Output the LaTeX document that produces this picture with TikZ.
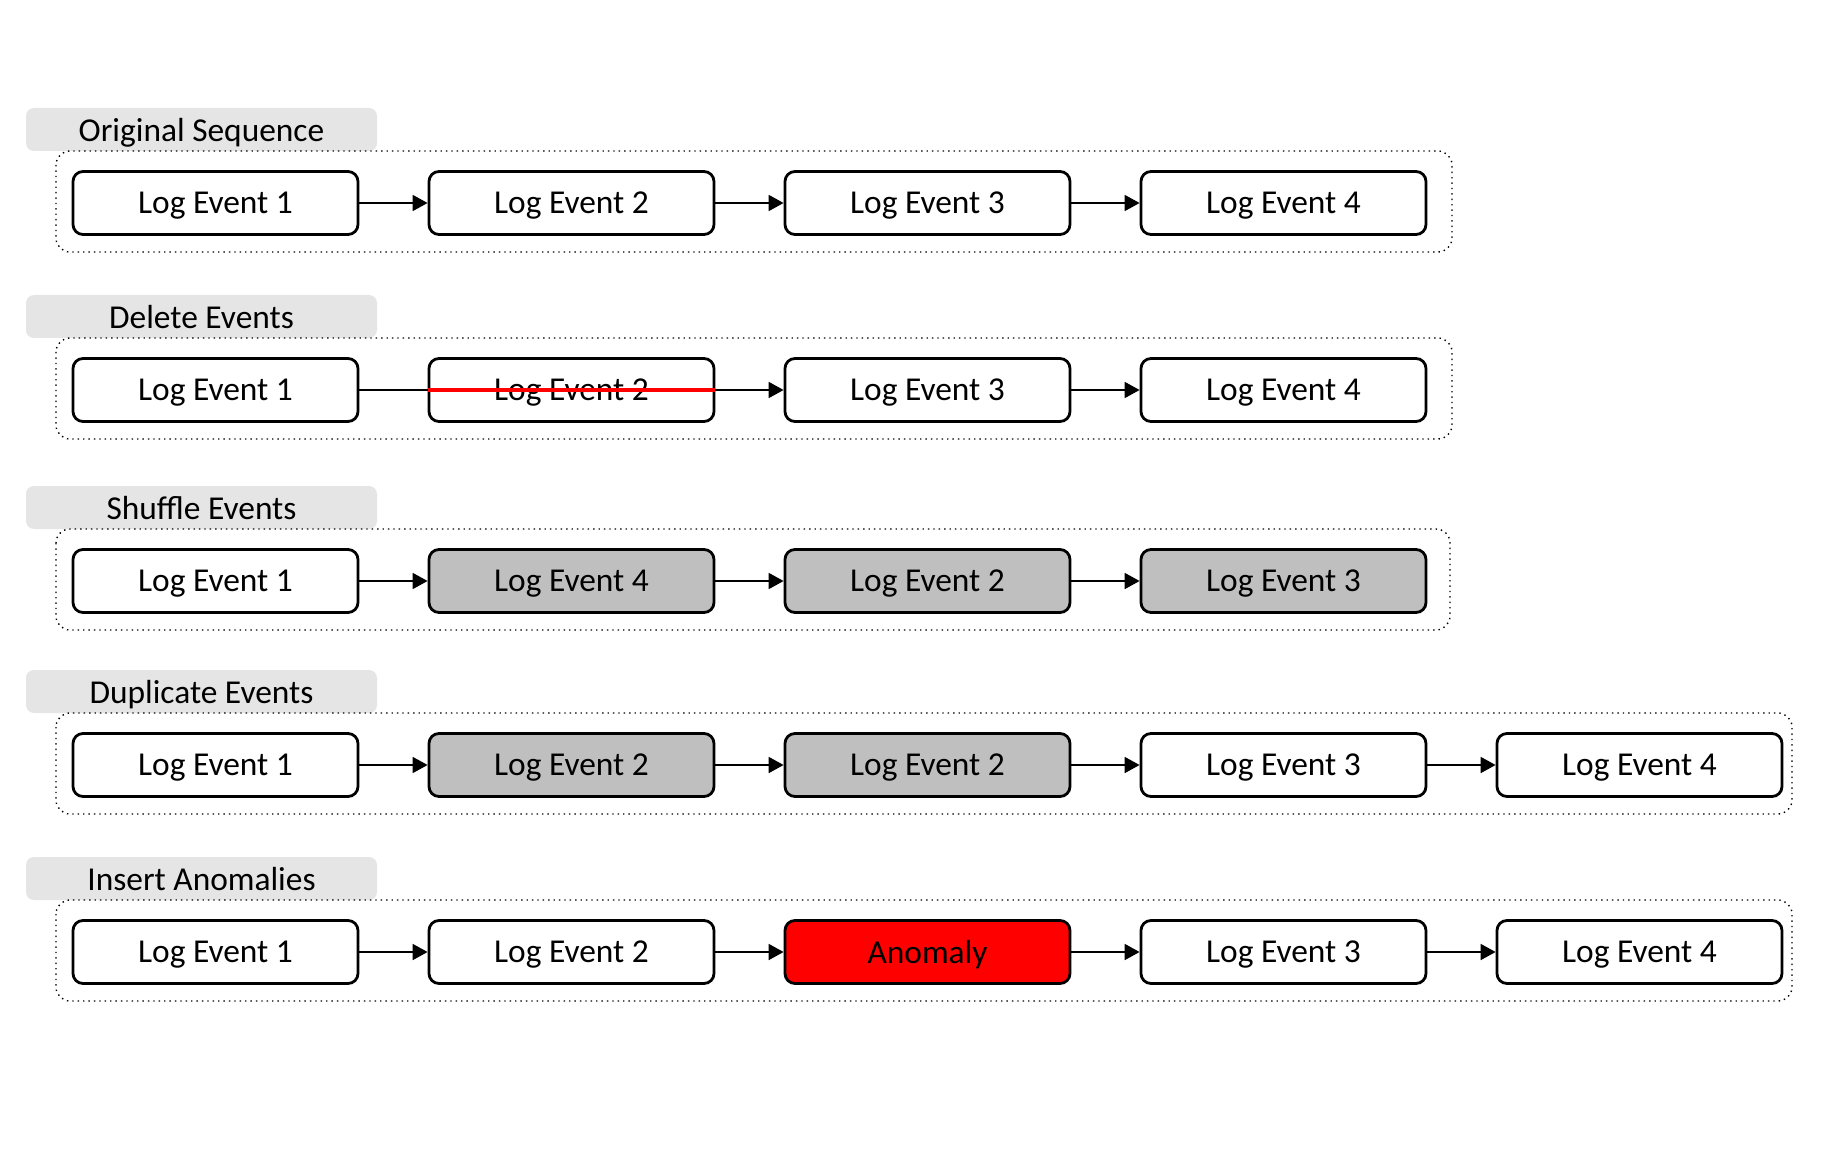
\documentclass[tikz,border=0pt]{standalone}
\usepackage{fontspec}
\setmainfont{Carlito}
\usetikzlibrary{arrows.meta,positioning}

\begin{document}
\begin{tikzpicture}[
    x=0.5pt, y=-0.5pt,
    node distance=34.1pt,
    event/.style={rectangle, draw, line width=1.4pt, fill=white, rounded corners=5pt, minimum width=142.5pt, minimum height=31.5pt, inner sep=0pt, text depth=0pt, font=\fontsize{16.7}{19}\selectfont},
    moved/.style={event, fill=black!25},
    anomaly/.style={event, fill=red},
    title/.style={rectangle, fill=black!10, rounded corners=4pt, minimum width=175.5pt, minimum height=21.5pt, inner sep=0pt, text depth=0pt, font=\fontsize{16.7}{19}\selectfont},
    group/.style={draw, dotted, line width=0.7pt, rounded corners=7pt},
    line/.style={draw, -{Triangle[length=7.5pt,width=8pt]}, line width=0.9pt}
]
\useasboundingbox (0,0) rectangle (1821,1166);

% Original Sequence
\node [title] (t1) at (201.5,129.5) {Original Sequence};
\draw [group] (56,151) rectangle (1452,252);
\node [event] (o1) at (215.5,203) {Log Event 1};
\node [event, right=of o1] (o2) {Log Event 2};
\node [event, right=of o2] (o3) {Log Event 3};
\node [event, right=of o3] (o4) {Log Event 4};
\path [line] (o1) -- (o2);
\path [line] (o2) -- (o3);
\path [line] (o3) -- (o4);

% Delete Events
\node [title] (t2) at (201.5,316.5) {Delete Events};
\draw [group] (56,338) rectangle (1452,439);
\node [event] (d1) at (215.5,390) {Log Event 1};
\node [event, right=of d1] (d2) {Log Event 2};
\node [event, right=of d2] (d3) {Log Event 3};
\node [event, right=of d3] (d4) {Log Event 4};
\draw [line width=0.9pt] (d1) -- (d2);
\draw [red, line width=2pt] (d2.west) -- (d2.east);
\path [line] (d2) -- (d3);
\path [line] (d3) -- (d4);

% Shuffle Events
\node [title] (t3) at (201.5,507.5) {Shuffle Events};
\draw [group] (56,529) rectangle (1450,630);
\node [event] (s1) at (215.5,581) {Log Event 1};
\node [moved, right=of s1] (s2) {Log Event 4};
\node [moved, right=of s2] (s3) {Log Event 2};
\node [moved, right=of s3] (s4) {Log Event 3};
\path [line] (s1) -- (s2);
\path [line] (s2) -- (s3);
\path [line] (s3) -- (s4);

% Duplicate Events
\node [title] (t4) at (201.5,691.5) {Duplicate Events};
\draw [group] (56,713) rectangle (1792,814);
\node [event] (u1) at (215.5,765) {Log Event 1};
\node [moved, right=of u1] (u2) {Log Event 2};
\node [moved, right=of u2] (u3) {Log Event 2};
\node [event, right=of u3] (u4) {Log Event 3};
\node [event, right=of u4] (u5) {Log Event 4};
\path [line] (u1) -- (u2);
\path [line] (u2) -- (u3);
\path [line] (u3) -- (u4);
\path [line] (u4) -- (u5);

% Insert Anomalies
\node [title] (t5) at (201.5,878.5) {Insert Anomalies};
\draw [group] (56,900) rectangle (1792,1001);
\node [event] (a1) at (215.5,952) {Log Event 1};
\node [event, right=of a1] (a2) {Log Event 2};
\node [anomaly, right=of a2] (a3) {Anomaly};
\node [event, right=of a3] (a4) {Log Event 3};
\node [event, right=of a4] (a5) {Log Event 4};
\path [line] (a1) -- (a2);
\path [line] (a2) -- (a3);
\path [line] (a3) -- (a4);
\path [line] (a4) -- (a5);

\end{tikzpicture}
\end{document}
